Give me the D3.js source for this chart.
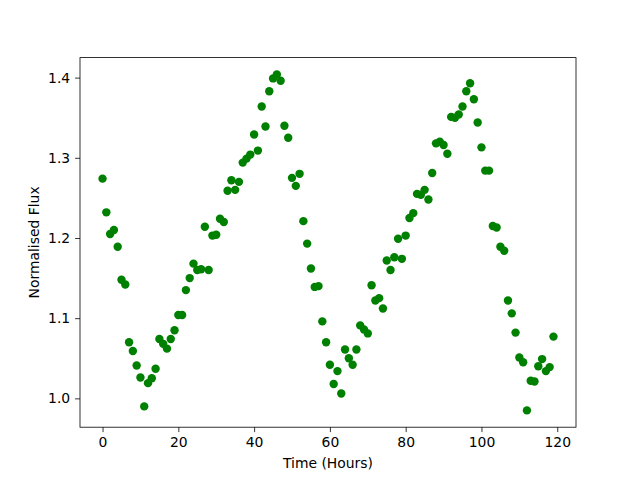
<!DOCTYPE html>
<html>
<head>
<meta charset="utf-8">
<script src="https://cdn.jsdelivr.net/npm/d3@7"></script>
<style>
  body { margin: 0; background: #fff; }
  svg { font-family: "DejaVu Sans", sans-serif; }
</style>
</head>
<body>
<div id="chart"></div>
<script>
// Data: hours 0..119 and normalised flux
var hours = d3.range(0, 120);
var flux = [
  1.274, 1.232, 1.205, 1.210, 1.189, 1.148, 1.142, 1.070, 1.059, 1.041,
  1.026, 0.990, 1.019, 1.025, 1.037, 1.074, 1.068, 1.062, 1.074, 1.085,
  1.104, 1.104, 1.135, 1.150, 1.168, 1.160, 1.161, 1.214, 1.160, 1.203,
  1.204, 1.224, 1.220, 1.259, 1.272, 1.260, 1.270, 1.294, 1.299, 1.304,
  1.329, 1.309, 1.364, 1.339, 1.383, 1.399, 1.404, 1.396, 1.340, 1.325,
  1.275, 1.265, 1.280, 1.221, 1.193, 1.162, 1.139, 1.140, 1.096, 1.070,
  1.042, 1.018, 1.034, 1.006, 1.061, 1.050, 1.042, 1.061, 1.091, 1.086,
  1.081, 1.141, 1.122, 1.125, 1.112, 1.172, 1.160, 1.176, 1.199, 1.174,
  1.203, 1.225, 1.231, 1.255, 1.254, 1.260, 1.248, 1.281, 1.318, 1.320,
  1.316, 1.305, 1.351, 1.350, 1.354, 1.364, 1.383, 1.393, 1.373, 1.344,
  1.313, 1.284, 1.284, 1.215, 1.213, 1.189, 1.184, 1.122, 1.106, 1.082,
  1.051, 1.045, 0.985, 1.022, 1.021, 1.040, 1.049, 1.034, 1.039, 1.077
];
var xTicks = [0, 20, 40, 60, 80, 100, 120];
var yTicks = [1.0, 1.1, 1.2, 1.3, 1.4];

var points = hours.map(function(h, i) { return {t: h, f: flux[i]}; });

// Chart set up (matplotlib default figure layout)
var svgWidth = 640;
var svgHeight = 480;
var margin = {top: 57.6, right: 64, bottom: 52.8, left: 80};
var width = svgWidth - margin.left - margin.right;
var height = svgHeight - margin.top - margin.bottom;

var svg = d3.select("#chart")
  .append("svg")
  .attr("width", svgWidth)
  .attr("height", svgHeight);

var chartGroup = svg.append("g")
  .attr("transform", `translate(${margin.left}, ${margin.top})`);

// 5% padding like matplotlib autoscale
function padded(ext) {
  var pad = (ext[1] - ext[0]) * 0.05;
  return [ext[0] - pad, ext[1] + pad];
}

var xScale = d3.scaleLinear()
  .domain(padded(d3.extent(hours)))
  .range([0, width]);

var yScale = d3.scaleLinear()
  .domain(padded(d3.extent(flux)))
  .range([height, 0]);

var xAxis = d3.axisBottom(xScale).tickValues(xTicks).tickSize(4.9).tickPadding(4.9).tickFormat(d3.format("d"));
var yAxis = d3.axisLeft(yScale).tickValues(yTicks).tickSize(4.9).tickPadding(4.9).tickFormat(d3.format(".1f"));

var gx = chartGroup.append("g")
  .attr("transform", `translate(0, ${height})`)
  .call(xAxis);
var gy = chartGroup.append("g")
  .call(yAxis);

[gx, gy].forEach(function(g) {
  g.select(".domain").remove();
  g.selectAll("line").attr("stroke", "#000").attr("stroke-width", 0.8);
  g.selectAll("text")
    .attr("font-family", "DejaVu Sans, sans-serif")
    .attr("font-size", "13.9px")
    .attr("fill", "#000");
});

// Points
chartGroup.selectAll("circle")
  .data(points)
  .enter()
  .append("circle")
  .attr("r", 4.2)
  .attr("fill", "green")
  .attr("cx", d => xScale(d.t))
  .attr("cy", d => yScale(d.f));

// Frame
chartGroup.append("rect")
  .attr("width", width)
  .attr("height", height)
  .attr("fill", "none")
  .attr("stroke", "#000")
  .attr("stroke-width", 0.8);

// Axis labels
chartGroup.append("text")
  .attr("x", width / 2)
  .attr("y", height + 41)
  .attr("text-anchor", "middle")
  .attr("font-size", "13.9px")
  .text("Time (Hours)");

chartGroup.append("text")
  .attr("transform", "rotate(-90)")
  .attr("x", -height / 2)
  .attr("y", -41)
  .attr("text-anchor", "middle")
  .attr("font-size", "13.9px")
  .text("Normalised Flux");
</script>
</body>
</html>
